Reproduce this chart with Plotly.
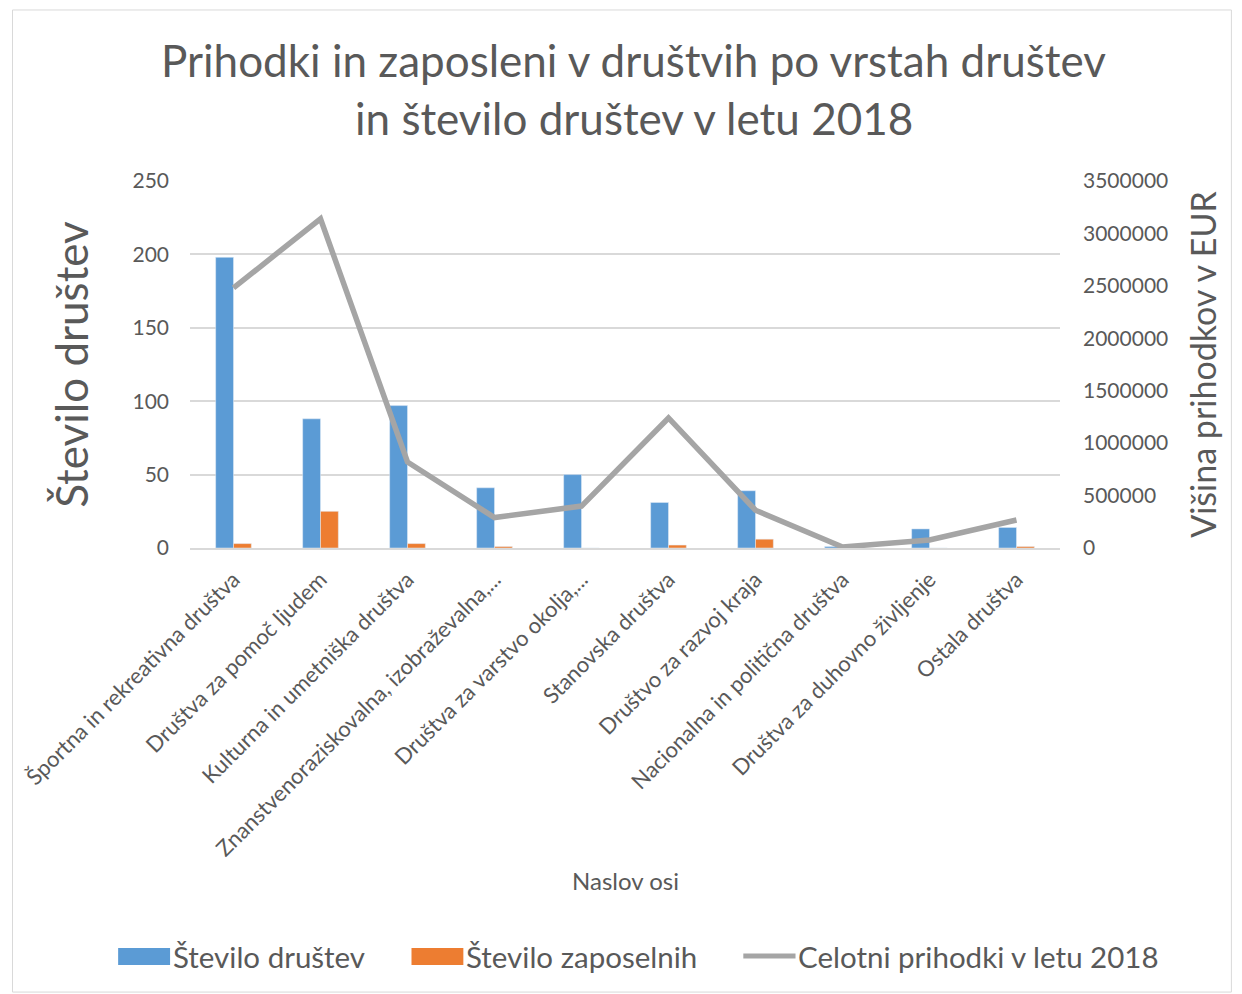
import plotly.graph_objects as go

categories = [
    "Športna in rekreativna društva",
    "Društva za pomoč ljudem",
    "Kulturna in umetniška društva",
    "Znanstvenoraziskovalna, izobraževalna,...",
    "Društva za varstvo okolja,...",
    "Stanovska društva",
    "Društvo za razvoj kraja",
    "Nacionalna in politična društva",
    "Društva za duhovno življenje",
    "Ostala društva",
]
stevilo_drustev = [198, 88, 97, 41, 50, 31, 39, 1, 13, 14]
stevilo_zaposlenih = [3, 25, 3, 1, 0, 2, 6, 0, 0, 1]
prihodki = [2480000, 3140000, 820000, 290000, 400000, 1240000, 360000, 10000, 76000, 267000]

series_names = ["Število društev", "Število zaposelnih", "Celotni prihodki v letu 2018"]
series_colors = ["#5b9bd5", "#ed7d31", "#a5a5a5"]

left_ticks = [0, 50, 100, 150, 200, 250]
right_ticks = [0, 500000, 1000000, 1500000, 2000000, 2500000, 3000000, 3500000]

FONT = "Lato"
GREY = "#595959"

fig = go.Figure()
fig.add_trace(go.Bar(x=categories, y=stevilo_drustev, name=series_names[0],
                     marker=dict(color=series_colors[0]), showlegend=False))
fig.add_trace(go.Bar(x=categories, y=stevilo_zaposlenih, name=series_names[1],
                     marker=dict(color=series_colors[1]), showlegend=False))
fig.add_trace(go.Scatter(x=categories, y=prihodki, name=series_names[2],
                         mode="lines", line=dict(color=series_colors[2], width=5.5), yaxis="y2",
                         showlegend=False))

# manual legend (wide swatches like the original)
LEG_Y = -1.112
shapes = [
    dict(type="rect", xref="paper", yref="paper", x0=-0.204, x1=1.197, y0=-1.21, y1=1.466,
         line=dict(color="#d9d9d9", width=1)),
    dict(type="rect", xref="paper", yref="paper", x0=-0.0826, x1=-0.0229, y0=-1.136, y1=-1.090,
         fillcolor=series_colors[0], line=dict(width=0)),
    dict(type="rect", xref="paper", yref="paper", x0=0.2546, x1=0.3142, y0=-1.136, y1=-1.090,
         fillcolor=series_colors[1], line=dict(width=0)),
    dict(type="line", xref="paper", yref="paper", x0=0.636, x1=0.696, y0=LEG_Y, y1=LEG_Y,
         line=dict(color=series_colors[2], width=5)),
]
legend_text_x = [-0.0215, 0.3145, 0.6962]

annotations = [
    dict(text="Prihodki in zaposleni v društvih po vrstah društev", xref="paper", yref="paper",
         x=0.51, y=1.331, xanchor="center", yanchor="middle", showarrow=False,
         font=dict(size=44, color=GREY, family=FONT)),
    dict(text="in število društev v letu 2018", xref="paper", yref="paper",
         x=0.51, y=1.171, xanchor="center", yanchor="middle", showarrow=False,
         font=dict(size=44, color=GREY, family=FONT)),
    dict(text="Naslov osi", xref="paper", yref="paper",
         x=0.5, y=-0.905, xanchor="center", yanchor="middle", showarrow=False,
         font=dict(size=24, color=GREY, family=FONT)),
]
for name, tx in zip(series_names, legend_text_x):
    annotations.append(dict(text=name, xref="paper", yref="paper", x=tx, y=LEG_Y,
                            xanchor="left", yanchor="middle", showarrow=False,
                            font=dict(size=29.5, color=GREY, family=FONT)))

fig.update_layout(
    width=1242, height=994,
    paper_bgcolor="white", plot_bgcolor="white",
    margin=dict(l=180, r=190, t=173, b=454),
    barmode="group", bargap=0.59, bargroupgap=0,
    font=dict(family=FONT, color=GREY),
    showlegend=False,
    xaxis=dict(tickangle=-45, tickfont=dict(size=22, color=GREY), showgrid=False,
               showline=True, linecolor="#d9d9d9", linewidth=2, ticklabelstandoff=8),
    yaxis=dict(range=[0, 250], tickvals=left_ticks, tickfont=dict(size=21, color=GREY),
               gridcolor="#d9d9d9", gridwidth=2, zeroline=False, ticklabelstandoff=20,
               title=dict(text="Število društev", font=dict(size=44, color=GREY), standoff=30)),
    yaxis2=dict(range=[0, 3500000], tickvals=right_ticks, overlaying="y", side="right",
                tickfont=dict(size=21, color=GREY), showgrid=False, zeroline=False,
                tickformat="d", ticklabelstandoff=22,
                title=dict(text="Višina prihodkov v EUR", font=dict(size=34, color=GREY), standoff=24)),
    annotations=annotations,
    shapes=shapes,
)

fig.write_html("out.html")
